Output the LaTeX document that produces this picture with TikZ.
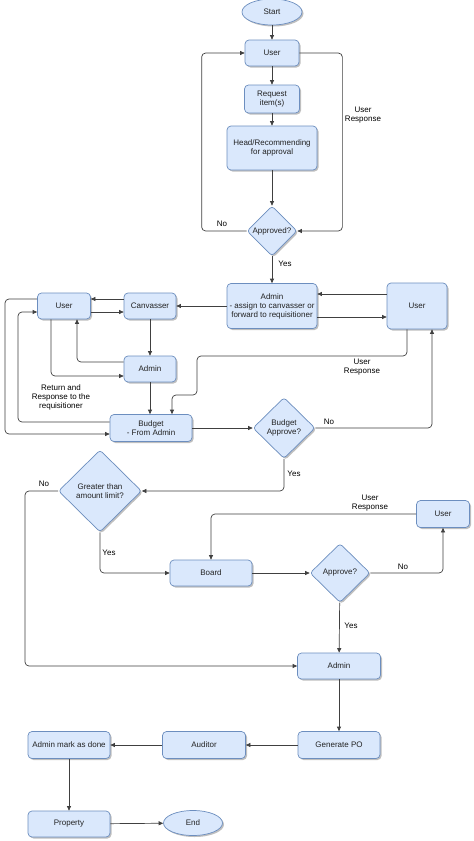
\documentclass[tikz,border=0pt]{standalone}
\usepackage{fontspec}
\setmainfont{Liberation Sans}
\usetikzlibrary{shapes.geometric,arrows.meta,shadows}
\definecolor{boxfill}{HTML}{DAE8FC}
\definecolor{boxline}{HTML}{6C8EBF}
\definecolor{edgecol}{HTML}{404040}
\definecolor{txtcol}{HTML}{222222}
\tikzset{
  base/.style={draw=boxline,fill=boxfill,line width=0.7pt,text=txtcol,align=center,inner sep=0pt,
    font=\fontsize{8}{9}\selectfont,
    drop shadow={shadow xshift=1.5pt,shadow yshift=-1.5pt,opacity=0.25,fill=black}},
  box/.style={base,rectangle,rounded corners=4pt},
  oval/.style={base,ellipse},
  decision/.style={base,diamond,rounded corners=3pt},
  arr/.style={draw=edgecol,line width=0.7pt,rounded corners=4pt,-{Triangle[length=4.5pt,width=4pt]}},
  lbl/.style={font=\fontsize{8}{9}\selectfont,text=black,align=center,inner sep=0pt}
}
\begin{document}
\begin{tikzpicture}[x=1pt,y=-1pt]
\useasboundingbox[fill=white] (0,0) rectangle (474,841);
% nodes
\node[oval,minimum width=60pt,minimum height=26pt] (start) at (272,12) {Start};
\node[box,minimum width=54pt,minimum height=26pt] (user1) at (272,53) {User};
\node[box,minimum width=55pt,minimum height=28pt] (req) at (272,99) {Request\\item(s)};
\node[box,minimum width=90pt,minimum height=44pt] (head) at (272,148) {Head/Recommending\\for approval};
\node[decision,minimum width=50pt,minimum height=50pt] (appr) at (272,231) {Approved?};
\node[box,minimum width=90pt,minimum height=45pt] (adm1) at (272,306) {Admin\\- assign to canvasser or\\forward to requisitioner};
\node[box,minimum width=60pt,minimum height=46pt] (userR) at (417,306) {User};
\node[box,minimum width=53pt,minimum height=26pt] (user2) at (64,306) {User};
\node[box,minimum width=52pt,minimum height=26pt] (canv) at (150,306) {Canvasser};
\node[box,minimum width=52pt,minimum height=26pt] (adm2) at (150,369) {Admin};
\node[box,minimum width=82pt,minimum height=27pt] (budget) at (151,428) {Budget\\- From Admin};
\node[decision,minimum width=62pt,minimum height=61pt] (bappr) at (284,428) {Budget\\Approve?};
\node[decision,minimum width=83pt,minimum height=82pt] (gt) at (100,491) {Greater than\\amount limit?};
\node[box,minimum width=82pt,minimum height=26pt] (board) at (211,573) {Board};
\node[decision,minimum width=60pt,minimum height=59pt] (appr2) at (340,573) {Approve?};
\node[box,minimum width=53pt,minimum height=27pt] (user3) at (443,514) {User};
\node[box,minimum width=83pt,minimum height=26pt] (adm3) at (339,666) {Admin};
\node[box,minimum width=82pt,minimum height=27pt] (genpo) at (339,745) {Generate PO};
\node[box,minimum width=83pt,minimum height=27pt] (aud) at (204,745) {Auditor};
\node[box,minimum width=82pt,minimum height=27pt] (amd) at (69,745) {Admin mark as done};
\node[box,minimum width=82pt,minimum height=26pt] (prop) at (69,824) {Property};
\node[oval,minimum width=59pt,minimum height=25pt] (end) at (193,823) {End};
% labels
\node[lbl] (l1) at (222,224) {No};
\node[lbl] (l2) at (363,115) {User\\Response};
\node[lbl] (l3) at (285,264) {Yes};
\node[lbl] (l4) at (61,397) {Return and\\Response to the\\requisitioner};
\node[lbl] (l5) at (362,367) {User\\Response};
\node[lbl] (l6) at (329,422) {No};
\node[lbl] (l7) at (294,474) {Yes};
\node[lbl] (l8) at (44,484) {No};
\node[lbl] (l9) at (109,553) {Yes};
\node[lbl] (l10) at (370,503) {User\\Response};
\node[lbl] (l11) at (403,567) {No};
\node[lbl] (l12) at (351,626) {Yes};
% edges
\draw[arr] (start) -- (user1);
\draw[arr] (user1) -- (req);
\draw[arr] (req) -- (head);
\draw[arr] (head) -- (appr);
\draw[arr] (appr.west) -- ++(-45,0) |- (user1.west);
\draw[arr] (user1.east) -- ++(43,0) |- (appr.east);
\draw[arr] (appr) -- (adm1);
\draw[arr] (adm1) -- (canv);
\draw[arr] ([yshift=12pt]userR.west) -- ([yshift=12pt]userR.west -| adm1.east);
\draw[arr] ([yshift=-11pt]adm1.east) -- ([yshift=-11pt]adm1.east -| userR.west);
\draw[arr] ([xshift=-10pt]userR.south) |- (197,356) |- (172,395) -- ([xshift=21pt]budget.north);
\draw[arr] ([yshift=7pt]canv.west) -- ([yshift=7pt]canv.west -| user2.east);
\draw[arr] ([yshift=-6pt]user2.east) -- ([yshift=-6pt]user2.east -| canv.west);
\draw[arr] (canv) -- (adm2);
\draw[arr] ([yshift=7pt]adm2.west) -| ([xshift=13pt]user2.south);
\draw[arr] ([xshift=-13pt]user2.south) |- ([yshift=-7pt]adm2.west);
\draw[arr] (adm2.south) -- (adm2.south |- budget.north);
\draw[arr] ([yshift=6pt]budget.west) -- (18,422) |- ([yshift=-6pt]user2.west);
\draw[arr] ([yshift=7pt]user2.west) -- (5,299) |- ([yshift=-6pt]budget.west);
\draw[arr] (budget) -- (bappr);
\draw[arr] (bappr.east) -| ([xshift=15pt]userR.south);
\draw[arr] (bappr.south) |- (gt.east);
\draw[arr] (gt.west) -- (25,491) |- (adm3.west);
\draw[arr] (gt.south) |- (board.west);
\draw[arr] (board) -- (appr2);
\draw[arr] (appr2.east) -| (user3.south);
\draw[arr] (user3.west) -| (board.north);
\draw[arr] (appr2) -- (adm3);
\draw[arr] (adm3) -- (genpo);
\draw[arr] (genpo) -- (aud);
\draw[arr] (aud) -- (amd);
\draw[arr] (amd) -- (prop);
\draw[arr] (prop) -- (end);
\end{tikzpicture}
\end{document}
